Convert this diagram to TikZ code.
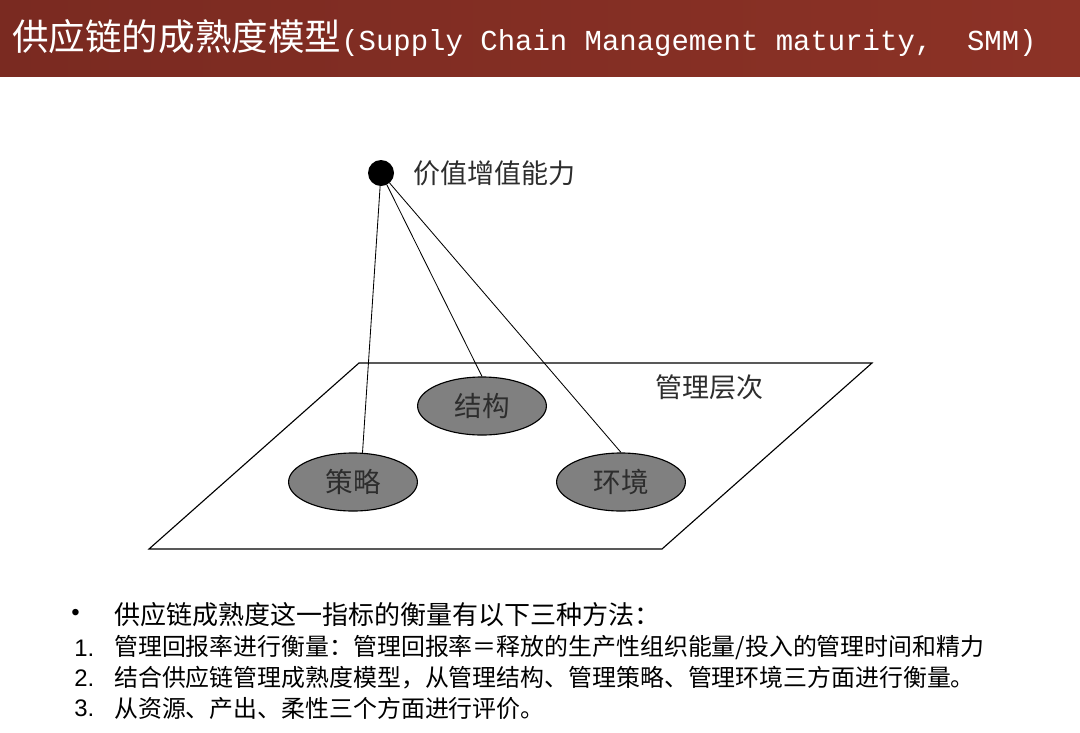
\documentclass[tikz,border=0pt]{standalone}
\usepackage{fontspec}
\setmainfont{Liberation Sans}
\newfontfamily\cjk{Noto Sans CJK SC}
\newfontfamily\titlemono{Liberation Mono}
\usetikzlibrary{shapes.geometric}
\definecolor{banner}{RGB}{122,42,33}
\definecolor{bannerlight}{RGB}{140,50,38}
\definecolor{labelgrey}{RGB}{45,45,45}

\begin{document}
\begin{tikzpicture}[x=0.025cm,y=-0.025cm,
  part/.style={ellipse,draw=black,line width=0.8pt,fill=black!50,minimum width=3.22cm,minimum height=1.45cm,inner sep=0pt,font=\cjk\fontsize{19.6}{22}\selectfont,text=labelgrey},
  listline/.style={anchor=west,inner sep=0pt,font=\cjk\fontsize{17}{20}\selectfont},
  listnum/.style={anchor=west,inner sep=0pt,font=\fontsize{17}{20}\selectfont}]
\useasboundingbox (0,0) rectangle (1080,732);
\fill[white] (0,0) rectangle (1080,732);
% title band
\shade[left color=banner,right color=bannerlight] (0,0) rectangle (1080,76);
\node[anchor=west,inner sep=0pt,text=white] (title) at (12,38) {{\cjk\fontsize{26}{30}\selectfont 供应链的成熟度模型}{\titlemono\fontsize{20.6}{24}\selectfont (Supply Chain Management maturity,~ SMM)}};

% plane
\draw[line width=0.8pt] (359,363) -- (872,363) -- (662,549) -- (149,549) -- cycle;
\node[anchor=west,inner sep=0pt,text=labelgrey,font=\cjk\fontsize{19.2}{22}\selectfont] (level) at (655,387) {管理层次};

\node[circle,fill=black,minimum size=0.65cm,inner sep=0pt] (top) at (381,173) {};
\node[anchor=west,inner sep=0pt,text=labelgrey,font=\cjk\fontsize{19.2}{22}\selectfont] (toplabel) at (413,173) {价值增值能力};

\node[part] (strategy) at (353,482) {策略};
\node[part] (structure) at (482,406) {结构};
\node[part] (environment) at (621,482) {环境};

\draw[line width=0.6pt] (top) -- (strategy.72);
\draw[line width=0.6pt] (top) -- (structure.north);
\draw[line width=0.6pt] (top) -- (environment.north);

% notes
\node[anchor=west,inner sep=0pt,font=\fontsize{17}{20}\selectfont] (bullet) at (71,615) {•};
\node[listline,font=\cjk\fontsize{18.5}{22}\selectfont] (note0) at (114,615) {供应链成熟度这一指标的衡量有以下三种方法：};
\node[listnum] (num1) at (74,648) {1.};
\node[listline] (note1) at (114,648) {管理回报率进行衡量：管理回报率＝释放的生产性组织能量/投入的管理时间和精力};
\node[listnum] (num2) at (74,678) {2.};
\node[listline] (note2) at (114,678) {结合供应链管理成熟度模型，从管理结构、管理策略、管理环境三方面进行衡量。};
\node[listnum] (num3) at (74,708) {3.};
\node[listline] (note3) at (114,708) {从资源、产出、柔性三个方面进行评价。};
\end{tikzpicture}
\end{document}
